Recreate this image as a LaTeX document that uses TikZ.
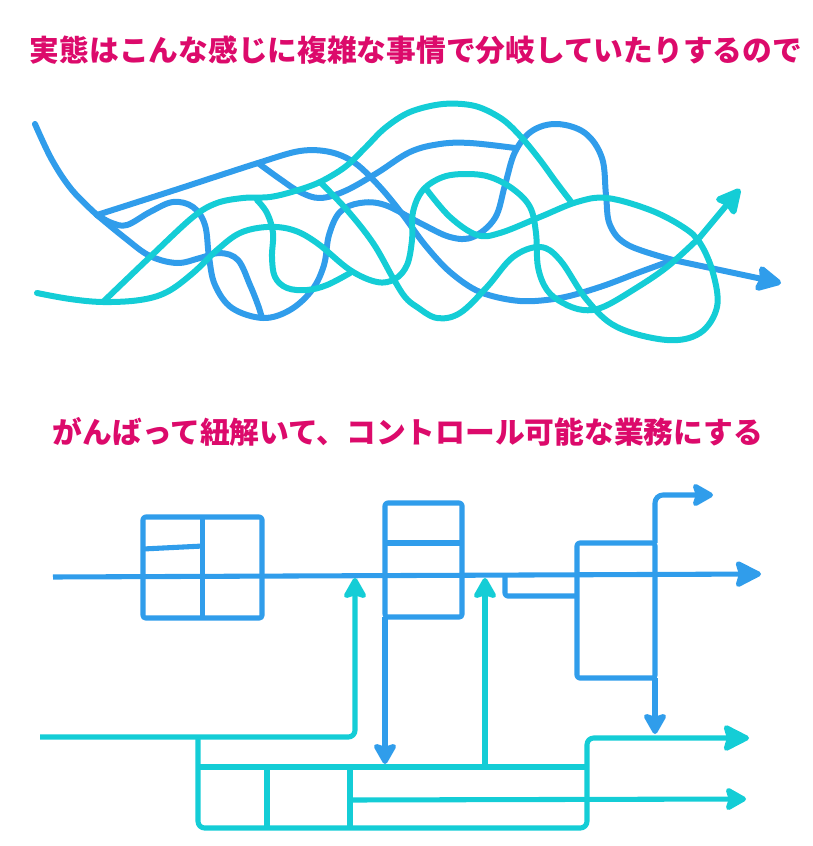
\documentclass[tikz,border=0pt]{standalone}
\usepackage{fontspec}
\newfontfamily\cjk{Noto Sans CJK JP}
\usetikzlibrary{arrows.meta}
\definecolor{lineblue}{RGB}{48,157,235}
\definecolor{linecyan}{RGB}{20,205,214}
\definecolor{titlered}{RGB}{220,10,107}
\newlength\px
\setlength\px{0.75pt}
\tikzset{
  headline/.style={font=\cjk\bfseries\fontsize{22.3}{26}\selectfont, text=titlered, inner sep=0pt},
  bluewire/.style={draw=lineblue, line width=4.5pt, line cap=round, line join=round},
  cyanwire/.style={draw=linecyan, line width=4.5pt, line cap=round, line join=round},
  blueflow/.style={draw=lineblue, line width=3.8pt, line join=round, rounded corners=2pt},
  cyanflow/.style={draw=linecyan, line width=3.8pt, line join=round, rounded corners=5pt},
  bluebox/.style={blueflow, inner sep=0pt, outer sep=0pt},
  bigtip/.style={-{Stealth[length=22pt, width=22pt, inset=3pt, round]}},
  smalltip/.style={-{Stealth[length=18pt, width=20pt, inset=3pt, round]}}
}
\begin{document}
\begin{tikzpicture}[x=0.75pt, y=-0.75pt]
  \useasboundingbox (0,0) rectangle (813,846);
  \node[headline] (topline) at (416,50) {実態はこんな感じに複雑な事情で分岐していたりするので};
  \node[headline] (lowline) at (408,432) {がんばって紐解いて、コントロール可能な業務にする};

  % the tangle
  \draw[bluewire] plot[smooth, tension=0.6] coordinates {(35,124) (52,160) (72,190) (97,215)};
  \draw[bluewire] plot[smooth, tension=0.55] coordinates {(97,215) (175,190) (258,163) (300,151) (330,152) (355,163) (380,187) (403,215) (425,245) (450,272) (480,292) (520,301) (560,298) (600,287) (640,272) (673,260)};
  \draw[bluewire] plot[smooth, tension=0.6] coordinates {(258,163) (280,179) (300,192) (320,198) (345,191) (377,173) (410,152) (440,144) (470,143) (515,148)};
  \draw[bluewire] plot[smooth, tension=0.6] coordinates {(97,215) (112,223) (127,225) (150,212) (173,202) (193,207) (205,225) (209,257) (215,285) (232,308) (263,318) (290,310) (312,290) (324,265) (329,235) (340,212) (360,203) (385,205) (420,223) (450,237) (473,237) (495,218) (505,185) (515,152) (532,131) (557,124) (585,133) (602,158) (606,195) (610,225) (628,245) (673,260)};
  \draw[bluewire] plot[smooth, tension=0.6] coordinates {(97,215) (125,238) (150,256) (177,263) (200,258) (220,253) (238,260) (250,285) (258,305) (262,318)};
  \draw[bluewire, bigtip] (673,260) -- (781,283);

  \draw[cyanwire] plot[smooth, tension=0.6] coordinates {(37,293) (70,299) (103,302) (140,300) (167,292) (193,273) (217,250) (240,233) (267,227) (293,230) (317,243) (350,270) (377,282) (395,279) (407,265) (412,240) (413,212) (423,190) (443,177) (467,174) (490,177) (513,189) (530,207) (536,233) (538,267) (547,290) (563,303) (583,310) (603,307) (633,290) (667,267) (700,237)};
  \draw[cyanwire, bigtip] (700,237) -- (740,189);
  \draw[cyanwire] plot[smooth, tension=0.55] coordinates {(103,302) (150,257) (193,217) (217,203) (243,198) (270,197) (295,191) (320,182) (345,167) (365,148) (385,128) (410,112) (443,104) (475,106) (502,119) (522,138) (540,160) (556,182) (572,203)};
  \draw[cyanwire] plot[smooth, tension=0.6] coordinates {(257,200) (267,213) (273,233) (272,257) (275,277) (287,288) (307,290) (327,285) (350,273)};
  \draw[cyanwire] plot[smooth, tension=0.6] coordinates {(320,182) (347,210) (373,243) (393,278) (405,297) (417,307) (437,318) (460,313) (487,287) (513,257) (540,247) (560,260) (587,300) (617,327) (667,340) (700,333) (717,307) (713,273) (700,243) (683,227) (650,210) (607,198) (577,202) (540,217) (500,233) (477,235) (450,217) (427,190)};

  % the untangled flow
  \node[bluebox, minimum width=119\px, minimum height=101\px] (partA) at (202.5,567.5) {};
  \node[bluebox, minimum width=77\px, minimum height=114\px] (partB) at (423.5,560) {};
  \node[bluebox, minimum width=78\px, minimum height=135\px] (partC) at (616,610.5) {};
  \draw[blueflow] (partA.north) -- (partA.south);
  \draw[blueflow] (partA.west |- 0,549) -- (203,546);
  \draw[blueflow] (partB.west |- 0,543) -- (partB.east |- 0,543);
  \coordinate (feedL) at (53,577);
  \coordinate (feedR) at (761,574);
  \draw[blueflow, bigtip] (feedL) -- (feedR);
  \draw[blueflow] (505,576) |- (partC.west |- 0,596);
  \coordinate (dropB) at (385,764);
  \draw[blueflow, smalltip] (partB.south west) -- (dropB);
  \coordinate (riseC) at (713,495);
  \draw[blueflow, smalltip, rounded corners=6pt] (partC.north east) |- (riseC);
  \coordinate (dropC) at (655,734);
  \draw[blueflow, smalltip] (partC.south east) -- (dropC);

  \coordinate (inL) at (40,737);
  \coordinate (upA) at (355,578);
  \draw[cyanflow, smalltip] (inL) -| (upA);
  \coordinate (tankNW) at (198,737);
  \coordinate (tankSE) at (587,828);
  \coordinate (outA) at (749,738);
  \draw[cyanflow, bigtip] (tankNW) |- (tankSE) |- (outA);
  \draw[cyanflow] (198,767) -- (587,767);
  \draw[cyanflow] (267,767) -- (267,828);
  \draw[cyanflow] (350,767) -- (350,828);
  \coordinate (outB) at (746,799);
  \draw[cyanflow, smalltip] (350,800) -- (outB);
  \coordinate (upB) at (485,578);
  \draw[cyanflow, smalltip] (485,767) -- (upB);
\end{tikzpicture}
\end{document}
